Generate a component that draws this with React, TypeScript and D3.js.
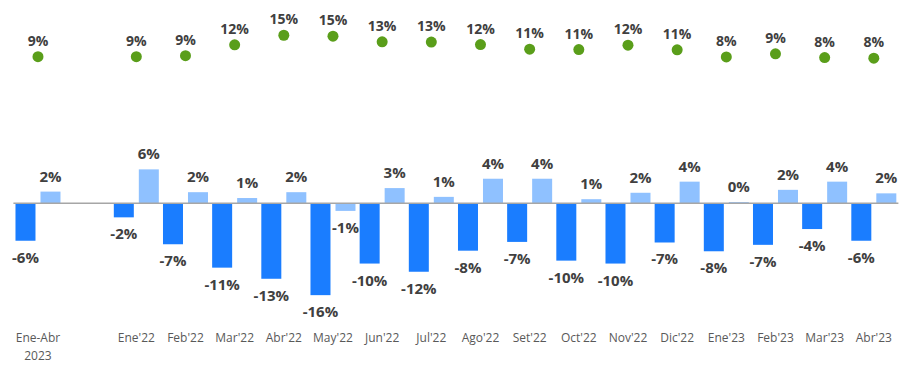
import React from "react";
import * as d3 from "d3";

const categories = ["Ene-Abr 2023", "", "Ene'22", "Feb'22", "Mar'22", "Abr'22", "May'22", "Jun'22", "Jul'22", "Ago'22", "Set'22", "Oct'22", "Nov'22", "Dic'22", "Ene'23", "Feb'23", "Mar'23", "Abr'23"];
const darkValues: (number | null)[] = [-6.4, null, -2.4, -7.0, -11.0, -12.9, -15.7, -10.3, -11.7, -8.1, -6.6, -9.8, -10.3, -6.7, -8.2, -7.1, -4.4, -6.4];
const lightValues: (number | null)[] = [2.0, null, 5.8, 1.9, 0.9, 1.9, -1.3, 2.6, 1.1, 4.2, 4.2, 0.7, 1.8, 3.7, 0.2, 2.3, 3.7, 1.7];
const greenValues: (number | null)[] = [8.5, null, 8.5, 8.8, 12.3, 15.4, 15.1, 13.3, 13.2, 12.4, 10.9, 10.8, 12.2, 10.7, 8.4, 9.4, 8.2, 8.0];

const W = 907;
const H = 367;
const DARK = "#1a7dff";
const LIGHT = "#8fc1ff";
const GREEN = "#5a9e1a";
const LABEL = "#404040";
const AXIS = "#595959";
const FONT = "'Open Sans', sans-serif";

const fmt = (v: number) => `${Math.round(v) === 0 ? 0 : Math.round(v)}%`;

export default function App() {
  const keys = categories.map((c, i) => `${i}`);
  const x = d3.scaleBand<string>().domain(keys).range([13.4, 898.4]).paddingInner(0).paddingOuter(0);
  const y = d3.scaleLinear().domain([-20, 10]).range([203.3 + 20 * 5.85, 203.3 - 10 * 5.85]);
  const y2 = d3.scaleLinear().domain([0, 20]).range([83, 21]);
  const bw = 20;
  const zero = y(0);

  const bars: React.ReactNode[] = [];
  categories.forEach((c, i) => {
    const cx = (x(keys[i]) as number) + x.bandwidth() / 2;
    const series: [number | null, string, number][] = [
      [darkValues[i], DARK, cx - 2.5 - bw],
      [lightValues[i], LIGHT, cx + 2.5],
    ];
    series.forEach(([v, col, x0], j) => {
      if (v == null) return;
      const top = Math.min(y(v), zero);
      const h = Math.abs(y(v) - zero);
      bars.push(<rect key={`b${i}-${j}`} x={x0} y={top} width={bw} height={h} fill={col} />);
      const ly = v >= 0 ? y(v) - 10 : y(v) + 22;
      bars.push(
        <text key={`l${i}-${j}`} x={x0 + bw / 2} y={ly} textAnchor="middle" fontFamily={FONT} fontWeight="bold" fontSize={15} fill={LABEL}>
          {fmt(v)}
        </text>
      );
    });
  });

  const dots: React.ReactNode[] = [];
  categories.forEach((c, i) => {
    const v = greenValues[i];
    if (v == null) return;
    const cx = (x(keys[i]) as number) + x.bandwidth() / 2;
    dots.push(<circle key={`d${i}`} cx={cx} cy={y2(v)} r={5.5} fill={GREEN} />);
    dots.push(
      <text key={`dl${i}`} x={cx} y={y2(v) - 11} textAnchor="middle" fontFamily={FONT} fontWeight="bold" fontSize={14} fill={LABEL}>
        {fmt(v)}
      </text>
    );
  });

  const xLabels = categories.map((c, i) => {
    if (!c) return null;
    const cx = (x(keys[i]) as number) + x.bandwidth() / 2;
    const parts = c === "Ene-Abr 2023" ? ["Ene-Abr", "2023"] : [c];
    return (
      <text key={`x${i}`} x={cx} y={342} textAnchor="middle" fontFamily={FONT} fontSize={12} fill={AXIS}>
        {parts.map((p, k) => (
          <tspan key={k} x={cx} dy={k === 0 ? 0 : 18}>{p}</tspan>
        ))}
      </text>
    );
  });

  return (
    <svg width={W} height={H} style={{ position: "absolute", left: 0, top: 0, background: "#fff" }}>
      {bars}
      <line x1={13.4} x2={898.4} y1={zero} y2={zero} stroke="#a6a6a6" strokeWidth={1.5} />
      {dots}
      {xLabels}
    </svg>
  );
}
